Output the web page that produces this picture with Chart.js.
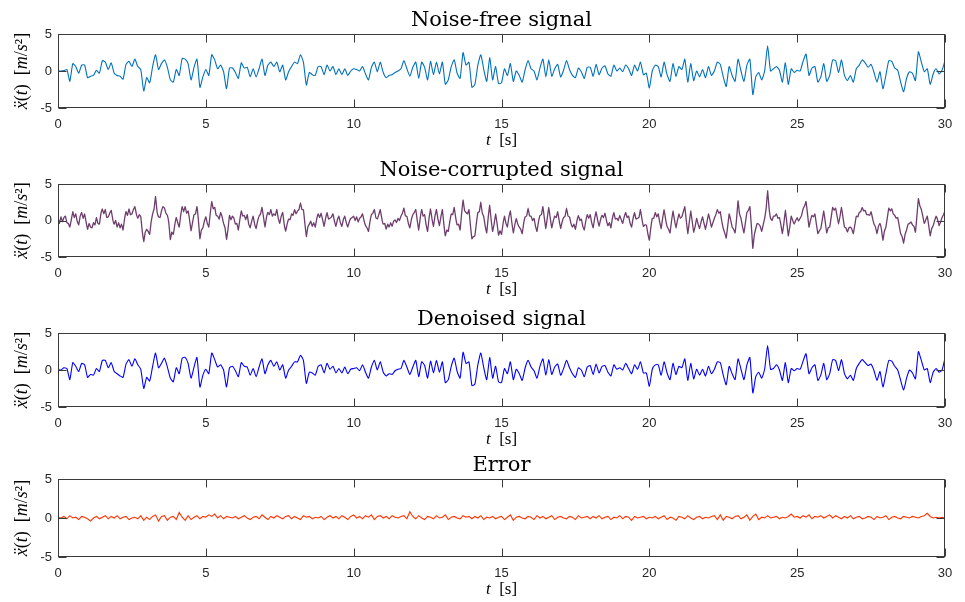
<!DOCTYPE html>
<html>
<head>
<meta charset="utf-8">
<script src="https://cdn.jsdelivr.net/npm/chart.js@4.4.1/dist/chart.umd.min.js"></script>
<style>
    body { margin: 0; background: #fff; }
    .panel { position: absolute; left: 0; }
</style>
</head>
<body>
<canvas class="panel" id="chartClean"></canvas>
<canvas class="panel" id="chartNoisy"></canvas>
<canvas class="panel" id="chartDenoised"></canvas>
<canvas class="panel" id="chartError"></canvas>

<script>
// sampling steps of the traces, seconds
const STEP = 0.1;
const STEP_NOISY = 0.05;

const xTicks = [0, 5, 10, 15, 20, 25, 30];
const yTicks = [-5, 0, 5];

const cleanSignal = [
    0, 0, 0.05, 0.2, -1.4, 1.0, 0.6, -0.3, 0.8, 0.8,
    -0.9, -0.7, -0.6, 0.1, -0.3, 1.4, 1.2, 0.2, 1.1, -0.3,
    -0.6, -0.7, -1.1, 0.9, 1.3, 0.6, 1.6, 0.6, 0.2, -2.7,
    -0.9, -1.6, 0.6, 2.2, 0.2, 1.0, 1.5, 0.5, -1.2, -1.5,
    0.2, -0.6, 1.7, 1.6, 1.0, -1.2, 0.5, 1.6, -2.2, -0.8,
    0.2, -0.6, 2.2, 1.5, 0.3, 0.8, -0.1, -2.4, 0.4, 0.4,
    -0.2, -1.0, 1.1, 0.4, 0.5, -0.8, 0.3, -0.8, 0.3, 1.6,
    -0.6, 0.8, 1.2, 0.6, 1.2, -0.1, 0.8, -1.2, -0.1, 0.6,
    1.2, 1.0, 2.2, 1.2, -1.9, -0.2, -0.5, -0.6, 0.6, 0.6,
    -0.5, 0.8, 0.0, 0.6, -0.5, 0.3, -0.5, 0.3, -0.6, 0.0,
    0.3, 0.2, 0.0, 0.6, -0.4, -1.2, 0.5, 1.2, -0.1, 1.2,
    -0.2, -0.9, -0.6, -0.5, -0.2, 0.0, 0.3, 1.4, 0.3, -0.7,
    0.5, 1.2, -1.0, 1.2, 0.5, -1.2, 1.3, -0.5, 1.2, -0.4,
    1.2, -1.8, -1.2, 0.6, 1.5, -0.3, -1.0, 2.5, 0.8, 1.2,
    -2.2, -1.8, 0.8, 2.2, 0.2, -1.4, 1.8, -1.2, 0.6, -1.7,
    -1.6, 0.3, -0.6, 1.0, -1.4, 0.0, -0.6, -1.5, 0.2, 1.4,
    0.3, 0.0, -1.2, 0.4, 1.6, -0.8, 1.5, -0.7, 0.3, 0.9,
    -0.8, 0.1, 1.4, 0.2, -0.6, -0.9, 0.4, -0.1, -1.0, 0.5,
    0.5, -0.7, 0.9, -0.5, 0.4, 0.7, -0.4, -0.7, 0.8, 0.0,
    0.4, -0.1, 0.8, 0.3, -0.6, 0.8, 0.0, 1.2, -0.5, -0.3,
    -2.3, 0.0, 0.8, 0.6, -0.8, 1.2, -0.5, -1.4, 1.0, -0.7,
    0.6, 0.2, 1.6, -1.5, 1.0, -1.3, 0.0, -0.8, 0.2, -0.9,
    0.6, -0.6, 0.0, 1.2, 0.9, -0.8, -2.1, 0.6, -0.6, -1.4,
    1.6, 0.0, -1.4, 0.8, 1.6, -3.2, -0.8, -0.2, -1.2, 0.0,
    3.4, 0.0, 0.3, 0.6, 0.1, -1.5, 1.1, -1.8, 0.3, -0.2,
    0.1, 0.0, 1.3, 2.3, -0.6, 0.4, 0.6, -1.5, -0.8, 1.0,
    -1.4, -0.6, 1.5, 1.4, -0.2, 1.5, -0.6, -1.3, -0.6, -1.5,
    0.3, 0.8, 1.5, 1.1, 0.5, 0.9, -0.2, -1.5, -0.1, -2.4,
    -0.6, 1.4, 1.3, 0.4, 0.1, -1.5, -2.8, -1.0, -0.1, -0.3,
    -1.3, 2.6, 1.2, -0.1, 0.3, -1.8, -0.4, 0.3, -0.4, 0.1, 1.4
];

const noisySignal = [
    0.3, -0.4, 0.5, -0.2, 0.4, 0.6, -0.3, -0.4, -0.9, 0.1, 1.2, 0.4, 0.9, -0.1, -0.6, 0.6, 1.1, 0.3, 0.9, -0.2,
    -1.2, -0.4, -0.9, -1.0, -0.3, -0.6, 0.4, -0.4, -0.5, 0.9, 1.6, 0.9, 1.5, 0.4, 0.5, 1.0, 1.4, 0.2, -0.5, 0.0,
    -0.9, -0.3, -1.0, -0.5, -1.3, 0.2, 1.2, 0.7, 1.6, 0.8, 0.9, 1.5, 1.9, 0.9, 0.3, 0.8, 0.5, -1.5, -2.9, -1.6,
    -1.2, -1.5, -1.9, -0.2, 0.9, 1.6, 3.3, 1.2, 0.5, 0.4, 1.3, 1.9, 1.7, 1.0, 0.7, -0.4, -2.6, -1.6, -1.9, -0.6,
    0.4, -0.3, -0.9, 0.7, 1.9, 1.2, 1.9, 1.0, 1.3, 0.1, -1.4, -0.3, 0.8, 0.9, 1.9, 0.0, -2.5, -1.3, -1.0, -0.1,
    0.5, -0.4, -0.9, 1.0, 2.6, 1.6, 1.8, 0.7, 0.6, 0.2, 1.1, 0.5, -0.4, -1.0, -2.6, -1.2, 0.7, 0.1, 0.6, 0.3,
    -0.5, -0.4, -1.3, 0.1, 1.3, 0.6, 0.7, 0.1, 0.8, -0.5, -1.0, -0.1, 0.6, -0.5, -1.1, -0.1, 0.6, 0.9, 1.8, 0.5,
    -0.9, 0.4, 1.1, 0.8, 1.5, 0.6, 0.9, 0.7, 1.5, 0.3, -0.4, 0.6, 1.1, -0.5, -1.5, -0.5, 0.2, 0.1, 0.9, 0.7,
    1.5, 0.9, 1.3, 1.5, 2.4, 1.5, 1.5, -0.4, -2.2, -0.9, -0.5, -0.1, -0.8, -0.3, -0.9, 0.2, 0.9, 0.4, 1.0, 0.1,
    -0.8, 0.3, 1.1, 0.2, 0.3, 0.5, 0.9, -0.1, -0.8, 0.1, 0.6, -0.3, -0.8, 0.1, 0.6, -0.3, -0.9, -0.2, 0.3, 0.4,
    0.6, 0.0, 0.5, -0.2, 0.3, 0.5, 0.9, 0.0, -0.7, -1.0, -1.5, -0.2, 0.8, 1.0, 1.5, 0.4, 0.2, 0.8, 1.5, 0.3,
    -0.5, -0.4, -1.2, -0.5, -0.9, -0.3, -0.8, -0.1, 0.1, -0.3, 0.3, 0.0, 0.6, 1.0, 1.7, 0.6, 0.6, -0.4, -1.0, 0.1,
    0.8, 1.1, 1.5, 0.0, -1.3, 0.3, 1.5, 0.6, 0.8, -0.6, -1.5, 0.3, 1.6, 0.2, -0.8, 0.6, 1.5, 0.2, -0.7, 0.5,
    1.5, -0.5, -2.1, -1.3, -1.5, -0.2, 0.9, 0.8, 1.8, 0.4, -0.6, -0.5, -1.3, 0.9, 2.8, 1.4, 1.1, 0.9, 1.5, -0.7,
    -2.5, -2.2, -2.1, -0.4, 1.1, 1.2, 2.5, 1.0, 0.5, -0.8, -1.7, 0.4, 2.1, 0.1, -1.5, -0.5, 0.9, -0.4, -2.0, -1.4,
    -1.9, -0.5, 0.6, -0.4, -0.9, 0.5, 1.3, -0.3, -1.7, -0.6, 0.3, -0.5, -0.9, -1.2, -1.8, -0.4, 0.5, 0.6, 1.7, 0.6,
    0.6, 0.0, 0.3, -0.8, -1.5, -0.2, 0.7, 0.8, 1.9, 0.3, -1.1, 0.4, 1.8, 0.3, -1.0, -0.1, 0.6, 0.4, 1.2, 0.0,
    -1.1, -0.2, 0.4, 0.6, 1.7, 0.6, 0.5, -0.4, -0.9, -0.5, -1.2, -0.1, 0.7, 0.0, 0.2, -0.8, -1.3, -0.1, 0.8, 0.3,
    0.8, -0.3, -1.0, 0.3, 1.2, 0.1, -0.8, 0.1, 0.7, 0.4, 1.0, 0.0, -0.7, -0.3, -1.0, 0.3, 1.1, 0.2, 0.3, 0.0,
    0.7, 0.1, -0.4, 0.5, 1.1, 0.4, 0.6, -0.4, -0.9, 0.3, 1.1, 0.2, 0.3, 0.4, 1.5, 0.2, -0.8, -0.6, -0.6, -1.8,
    -2.7, -1.0, 0.3, 0.3, 1.1, 0.5, 0.9, -0.2, -1.1, 0.3, 1.5, 0.2, -0.8, -1.2, -1.7, -0.1, 1.3, 0.1, -1.0, 0.0,
    0.9, 0.3, 0.5, 1.2, 1.9, 0.0, -1.8, -0.3, 1.3, -0.1, -1.6, -0.8, 0.3, -0.5, -1.1, -0.2, 0.5, -0.4, -1.2, -0.2,
    0.9, 0.1, -0.9, -0.3, 0.3, 0.8, 1.5, 1.0, 1.2, -0.1, -1.1, -1.7, -2.4, -0.8, 0.9, 0.1, -0.9, -1.2, -1.7, 0.2,
    2.7, 0.9, 0.3, -0.8, -1.7, -0.3, 1.1, 1.4, 1.9, -0.7, -3.8, -2.0, -1.1, -0.4, -0.5, -0.8, -1.5, -0.6, 0.3, 1.6,
    4.1, 1.7, 0.3, 0.0, 0.6, 0.6, 0.9, 0.3, 0.4, -0.6, -1.8, -0.4, 1.4, -0.3, -2.1, -0.9, 0.6, 0.0, -0.5, 0.0,
    0.4, -0.1, 0.3, 0.7, 1.6, 2.0, 2.6, 0.9, -0.9, 0.0, 0.7, 0.5, 0.9, -0.5, -1.8, -1.4, -1.1, 0.1, 1.3, -0.2,
    -1.7, -1.0, -0.9, 0.4, 1.8, 1.4, 1.7, 0.6, -0.5, 0.6, 1.8, 0.4, -0.9, -1.0, -1.6, -1.0, -0.9, -1.2, -1.8, -0.6,
    0.6, 0.5, 1.1, 1.2, 1.8, 1.3, 1.4, 0.8, 0.8, 0.7, 1.2, 0.3, -0.5, -0.9, -1.8, -0.8, -0.4, -1.2, -2.7, -1.5,
    -0.9, 0.4, 1.7, 1.3, 1.6, 0.9, 0.7, 0.3, 0.4, -0.7, -1.8, -2.2, -3.1, -1.9, -1.3, -0.5, -0.4, -0.2, -0.6, -0.8,
    -1.6, 0.6, 3.0, 2.0, 1.5, 0.6, -0.4, 0.1, 0.6, -0.7, -2.1, -1.1, -0.7, 0.0, 0.6, 0.1, -0.7, -0.2, 0.4, 0.8,
    1.3
];

const denoisedSignal = [
    0.1, 0.0, 0.3, 0.2, -1.3, 1.0, 0.5, -0.2, 0.9, 0.7,
    -1.0, -0.6, -0.7, 0.2, -0.2, 1.3, 1.3, 0.3, 1.0, -0.2,
    -0.5, -0.8, -1.0, 0.8, 1.4, 0.5, 1.5, 0.7, 0.1, -2.5,
    -1.0, -1.5, 0.5, 2.3, 0.3, 0.9, 1.6, 0.4, -1.1, -1.6,
    0.3, -0.5, 1.6, 1.7, 0.9, -1.1, 0.4, 1.7, -2.3, -0.7,
    0.1, -0.5, 2.3, 1.4, 0.4, 0.7, 0.0, -2.3, 0.3, 0.5,
    -0.1, -0.9, 1.0, 0.5, 0.4, -0.7, 0.2, -0.9, 0.4, 1.5,
    -0.5, 0.7, 1.3, 0.5, 1.1, 0.0, 0.7, -1.1, 0.0, 0.5,
    1.1, 1.1, 2.0, 1.3, -1.8, -0.3, -0.4, -0.7, 0.5, 0.7,
    -0.4, 0.9, 0.1, 0.5, -0.4, 0.2, -0.4, 0.4, -0.5, 0.1,
    0.2, 0.3, -0.1, 0.7, -0.3, -1.1, 0.4, 1.3, 0.0, 1.1,
    -0.3, -0.8, -0.5, -0.6, -0.1, 0.1, 0.2, 1.3, 0.4, -0.6,
    0.4, 1.3, -0.9, 1.1, 0.6, -1.1, 1.2, -0.4, 1.3, -0.3,
    1.1, -1.7, -1.3, 0.5, 1.6, -0.2, -1.1, 2.4, 0.9, 1.1,
    -2.1, -1.9, 0.7, 2.3, 0.3, -1.3, 1.7, -1.1, 0.5, -1.6,
    -1.7, 0.2, -0.5, 1.1, -1.3, 0.1, -0.5, -1.4, 0.3, 1.3,
    0.4, -0.1, -1.1, 0.5, 1.5, -0.7, 1.4, -0.6, 0.4, 0.8,
    -0.7, 0.2, 1.3, 0.3, -0.5, -1.0, 0.3, 0.0, -0.9, 0.4,
    0.6, -0.6, 0.8, -0.4, 0.5, 0.6, -0.3, -0.8, 0.7, 0.1,
    0.3, 0.0, 0.9, 0.2, -0.5, 0.7, 0.1, 1.1, -0.4, -0.4,
    -2.2, 0.1, 0.7, 0.7, -0.7, 1.1, -0.4, -1.3, 0.9, -0.6,
    0.5, 0.3, 1.5, -1.4, 0.9, -1.2, 0.1, -0.7, 0.1, -0.8,
    0.5, -0.5, 0.1, 1.1, 1.0, -0.7, -2.0, 0.5, -0.5, -1.3,
    1.5, 0.1, -1.3, 0.7, 1.7, -3.1, -0.9, -0.3, -1.1, 0.1,
    3.3, 0.1, 0.2, 0.7, 0.0, -1.4, 1.0, -1.7, 0.2, -0.1,
    0.2, 0.1, 1.2, 2.2, -0.5, 0.3, 0.7, -1.4, -0.7, 0.9,
    -1.3, -0.5, 1.4, 1.3, -0.1, 1.4, -0.5, -1.2, -0.7, -1.4,
    0.2, 0.9, 1.4, 1.0, 0.6, 0.8, -0.1, -1.4, -0.2, -2.3,
    -0.5, 1.3, 1.2, 0.5, 0.0, -1.4, -2.7, -1.1, 0.0, -0.4,
    -1.2, 2.5, 1.3, 0.0, 0.2, -1.7, -0.3, 0.2, -0.3, 0.0, 1.6
];

const errorSignal = [
    0.1, 0.0, 0.2, -0.1, 0.3, 0.0, 0.1, -0.2, 0.2, 0.1,
    -0.1, -0.4, 0.0, 0.2, -0.1, 0.1, 0.3, -0.1, 0.2, 0.0,
    0.3, -0.1, 0.1, 0.2, -0.2, 0.0, 0.1, -0.1, 0.3, -0.3,
    0.1, -0.2, 0.2, 0.4, -0.4, 0.2, 0.3, -0.3, 0.1, 0.2,
    -0.2, 0.7, 0.1, -0.3, 0.3, -0.2, 0.1, 0.3, -0.1, 0.2,
    0.1, 0.4, 0.2, 0.5, 0.0, 0.3, -0.1, 0.2, 0.1, 0.0,
    0.2, -0.1, 0.1, 0.3, 0.0, -0.2, 0.1, 0.2, -0.1, 0.4,
    0.1, -0.2, 0.2, 0.0, 0.3, 0.1, -0.1, 0.2, 0.3, -0.1,
    0.2, 0.0, -0.2, 0.3, 0.1, 0.2, -0.1, 0.1, 0.0, 0.2,
    -0.2, 0.1, 0.3, 0.0, 0.2, -0.1, 0.3, 0.1, -0.2, 0.2,
    0.4, 0.0, 0.2, -0.1, 0.3, 0.1, 0.4, -0.2, 0.2, 0.3,
    0.0, 0.2, -0.1, 0.3, 0.1, 0.0, 0.2, 0.3, -0.1, 0.8,
    0.2, -0.1, 0.3, 0.0, -0.2, 0.2, 0.1, -0.1, 0.3, 0.0,
    0.1, 0.4, -0.2, 0.1, 0.2, 0.0, -0.1, 0.3, 0.1, 0.2,
    -0.1, 0.2, 0.0, 0.3, -0.2, 0.1, 0.0, 0.2, -0.1, 0.1,
    0.2, -0.2, 0.1, 0.4, -0.3, 0.1, 0.2, 0.0, -0.1, 0.2,
    0.1, -0.2, 0.3, 0.0, 0.2, -0.1, 0.1, 0.3, -0.2, 0.1,
    0.2, 0.0, -0.1, 0.2, 0.1, -0.2, 0.3, 0.0, 0.1, 0.2,
    -0.1, 0.2, 0.0, 0.3, -0.1, 0.1, 0.2, -0.2, 0.1, 0.0,
    0.3, -0.1, 0.2, 0.1, -0.3, 0.2, 0.0, 0.1, 0.2, -0.1,
    0.1, 0.0, 0.2, -0.1, 0.1, 0.3, -0.2, 0.1, 0.0, -0.3,
    0.2, 0.1, -0.1, 0.3, 0.0, -0.2, 0.1, 0.2, -0.1, 0.1,
    0.0, 0.2, 0.3, -0.2, 0.4, -0.3, 0.2, 0.1, -0.1, 0.2,
    0.3, -0.1, 0.1, 0.4, -0.3, 0.2, 0.5, -0.2, 0.1, 0.0,
    0.3, 0.0, 0.1, 0.2, -0.1, 0.1, 0.0, 0.2, 0.5, 0.1,
    0.2, 0.0, 0.3, 0.1, 0.4, -0.1, 0.2, 0.1, 0.3, 0.0,
    0.2, 0.4, 0.0, 0.3, 0.1, -0.1, 0.2, 0.0, 0.3, -0.1,
    0.1, 0.2, -0.1, 0.0, 0.2, 0.1, -0.2, 0.2, 0.0, 0.1,
    0.3, -0.2, 0.1, 0.2, 0.0, -0.1, 0.2, 0.1, 0.0, 0.2,
    0.1, 0.0, 0.2, 0.3, 0.6, 0.2, 0.0, 0.1, 0.0, 0.1, 0.0
];

// label pieces: [text, italic?]
const yLabel = [['ẍ', true], ['(', false], ['t', true], [')  [', false], ['m', true], ['/', false], ['s', true], ['²', false], [']', false]];
const xLabel = [['t', true], ['  [s]', false]];

const MATH_FONT = '"Liberation Serif", "DejaVu Serif", serif';

function points(values, step) {
    return values.map((v, i) => ({x: i * step, y: v}));
}

function drawPieces(ctx, pieces, cx, baseline, size) {
    const fontOf = p => (p[1] ? 'italic ' : '') + size + 'px ' + MATH_FONT;
    let total = 0;
    pieces.forEach(p => { ctx.font = fontOf(p); total += ctx.measureText(p[0]).width; });
    let x = cx - total / 2;
    ctx.textAlign = 'left';
    pieces.forEach(p => {
        ctx.font = fontOf(p);
        ctx.fillText(p[0], x, baseline);
        x += ctx.measureText(p[0]).width;
    });
}

// MATLAB-like box, inward ticks, serif title and axis labels
const axesDecor = {
    id: 'axesDecor',
    afterDraw(chart, args, opts) {
        const {ctx, chartArea: a, scales} = chart;
        const L = Math.round(a.left) + 0.5, R = Math.round(a.right) - 0.5;
        const T = Math.round(a.top) + 0.5, B = Math.round(a.bottom) - 0.5;
        ctx.save();
        ctx.strokeStyle = '#3a3a3a';
        ctx.lineWidth = 1;
        ctx.strokeRect(L, T, R - L, B - T);
        ctx.beginPath();
        xTicks.forEach(v => {
            const px = Math.round(scales.x.getPixelForValue(v)) + 0.5;
            ctx.moveTo(px, B); ctx.lineTo(px, B - 8);
            ctx.moveTo(px, T); ctx.lineTo(px, T + 8);
        });
        yTicks.forEach(v => {
            const py = Math.round(scales.y.getPixelForValue(v)) + 0.5;
            ctx.moveTo(L, py); ctx.lineTo(L + 8, py);
            ctx.moveTo(R, py); ctx.lineTo(R - 8, py);
        });
        ctx.stroke();

        ctx.fillStyle = '#000';
        ctx.textBaseline = 'alphabetic';
        ctx.textAlign = 'center';
        ctx.font = '21px "DejaVu Serif", serif';
        ctx.fillText(opts.title, (a.left + a.right) / 2, a.top - 8);

        drawPieces(ctx, xLabel, (a.left + a.right) / 2, a.bottom + 37, 17);

        ctx.translate(22, (a.top + a.bottom) / 2);
        ctx.rotate(-Math.PI / 2);
        drawPieces(ctx, yLabel, 0, 5, 18);
        ctx.restore();
    }
};

function makeChart(id, panel) {
    const canvas = document.getElementById(id);
    canvas.width = 965;
    canvas.height = panel.height;
    canvas.style.top = panel.top + 'px';

    return new Chart(canvas, {
        type: 'line',
        data: {
            datasets: [{
                data: points(panel.values, panel.step),
                borderColor: panel.color,
                borderWidth: panel.width,
                pointRadius: 0,
                tension: panel.tension
            }]
        },
        options: {
            responsive: false,
            animation: false,
            layout: {padding: {top: panel.padTop, right: 20, left: 0, bottom: 0}},
            plugins: {
                legend: {display: false},
                tooltip: {enabled: false},
                axesDecor: {title: panel.title}
            },
            scales: {
                x: {
                    type: 'linear', min: 0, max: 30,
                    grid: {display: false, drawTicks: false},
                    border: {display: false},
                    ticks: {stepSize: 5, padding: 9, maxRotation: 0, color: '#262626',
                        font: {family: '"Liberation Sans", Arial, sans-serif', size: 13}},
                    afterFit(scale) { scale.height = panel.bottomSpace; }
                },
                y: {
                    min: -5, max: 5,
                    grid: {display: false, drawTicks: false},
                    border: {display: false},
                    ticks: {stepSize: 5, padding: 6, color: '#262626',
                        font: {family: '"Liberation Sans", Arial, sans-serif', size: 13}},
                    afterFit(scale) { scale.width = 58; }
                }
            }
        },
        plugins: [axesDecor]
    });
}

makeChart('chartClean', {title: 'Noise-free signal', values: cleanSignal, step: STEP, color: '#0072BD',
    width: 1.1, tension: 0.18, top: 0, height: 160, padTop: 34, bottomSpace: 52});
makeChart('chartNoisy', {title: 'Noise-corrupted signal', values: noisySignal, step: STEP_NOISY, color: '#6E3D6E',
    width: 1.3, tension: 0.05, top: 150, height: 160, padTop: 34, bottomSpace: 53});
makeChart('chartDenoised', {title: 'Denoised signal', values: denoisedSignal, step: STEP, color: '#0000FF',
    width: 1.1, tension: 0.18, top: 300, height: 160, padTop: 33, bottomSpace: 53});
makeChart('chartError', {title: 'Error', values: errorSignal, step: STEP, color: '#FF3300',
    width: 1.1, tension: 0, top: 447, height: 155, padTop: 32, bottomSpace: 45});
</script>
</body>
</html>
